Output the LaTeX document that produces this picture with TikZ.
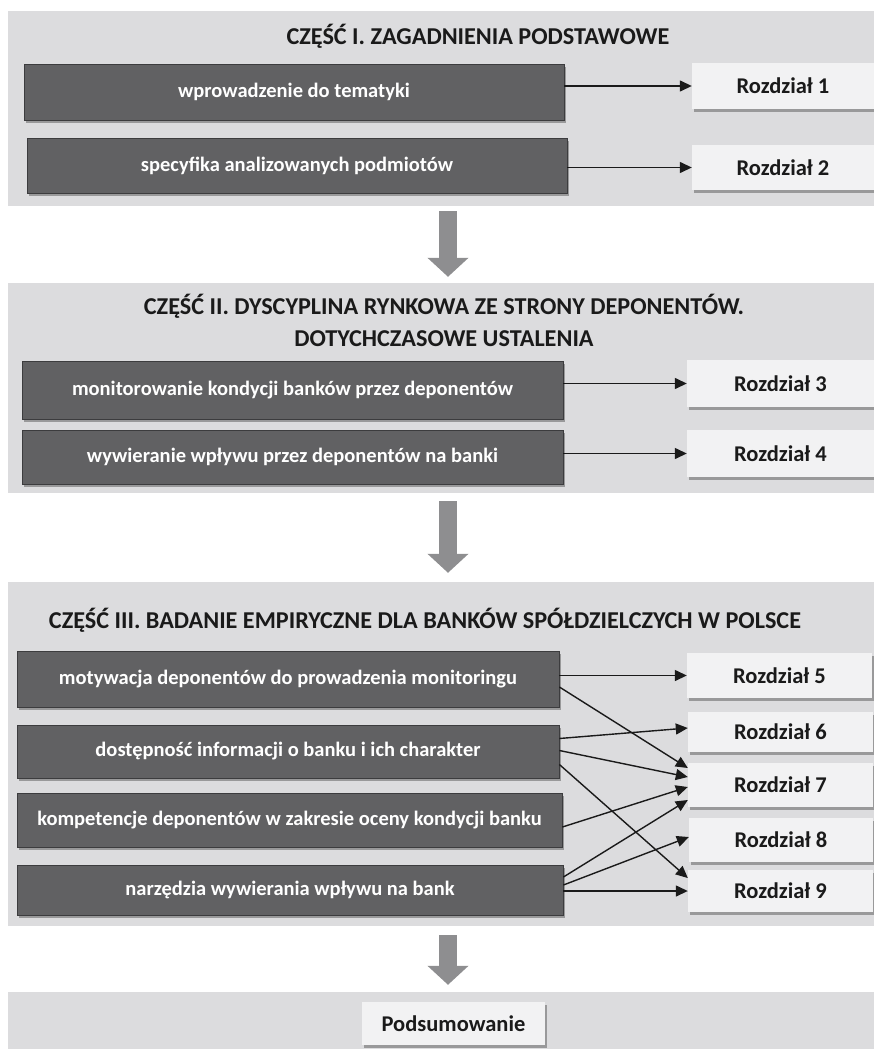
\documentclass[tikz,border=0pt]{standalone}
\usepackage{fontspec}
\setmainfont{Carlito}
\usetikzlibrary{arrows.meta,positioning,shadows}

\definecolor{partgray}{RGB}{220,220,222}
\definecolor{topicfill}{RGB}{97,97,99}
\definecolor{topicline}{RGB}{60,60,62}
\definecolor{chapfill}{RGB}{242,242,243}
\definecolor{bigarrowgray}{RGB}{142,142,144}
\definecolor{textdark}{RGB}{26,26,26}

\begin{document}
\begin{tikzpicture}[
  x=1pt, y=-1pt,
  partbox/.style={
    fill=partgray,
    draw=none,
    inner sep=0pt,
    minimum width=866pt
  },
  parttitle/.style={
    font=\fontsize{24.2}{32}\selectfont\bfseries,
    text=textdark,
    align=center
  },
  topic/.style={
    draw=topicline,
    line width=0.8pt,
    fill=topicfill,
    text=white,
    inner sep=0pt,
    font=\fontsize{20.5}{24}\selectfont\bfseries,
    drop shadow={shadow xshift=2pt, shadow yshift=-3pt, opacity=0.3, fill=black}
  },
  chapter/.style={
    fill=chapfill,
    text=textdark,
    inner sep=0pt,
    font=\fontsize{22.5}{26}\selectfont\bfseries,
    drop shadow={shadow xshift=2pt, shadow yshift=-3pt, opacity=0.3, fill=black}
  },
  arrow/.style={-{Triangle[length=12pt,width=11pt]}, line width=1.4pt, textdark},
  bigarrow/.style={-{Triangle[length=19pt,width=40pt]}, line width=18pt, draw=bigarrowgray}
]
\useasboundingbox (0,0) rectangle (874,1049);

% parts
\node[partbox, minimum height=195pt] (sec1) at (441,108.5) {};
\node[partbox, minimum height=210pt] (sec2) at (441,388) {};
\node[partbox, minimum height=344pt] (sec3) at (441,754) {};
\node[partbox, minimum height=57pt]  (sec4) at (441,1020.5) {};

\node[parttitle] (title1) at (478,36)  {CZĘŚĆ I. ZAGADNIENIA PODSTAWOWE};
\node[parttitle] (title2) at (444,320) {CZĘŚĆ II. DYSCYPLINA RYNKOWA ZE STRONY DEPONENTÓW.\\DOTYCHCZASOWE USTALENIA};
\node[parttitle] (title3) at (425,620) {CZĘŚĆ III. BADANIE EMPIRYCZNE DLA BANKÓW SPÓŁDZIELCZYCH W POLSCE};

% part I
\node[topic, minimum width=540pt, minimum height=56pt] (t1) at (294,92)    {wprowadzenie do tematyki};
\node[topic, minimum width=540pt, minimum height=55pt] (t2) at (297,165.5) {specyfika analizowanych podmiotów};
\node[chapter, minimum width=182pt, minimum height=46pt] (r1) at (783,86)    {Rozdział 1};
\node[chapter, minimum width=182pt, minimum height=45pt] (r2) at (783,167.5) {Rozdział 2};

% part II
\node[topic, minimum width=541pt, minimum height=58pt] (t3) at (292.5,390) {monitorowanie kondycji banków przez deponentów};
\node[topic, minimum width=541pt, minimum height=54pt] (t4) at (292.5,457) {wywieranie wpływu przez deponentów na banki};
\node[chapter, minimum width=187pt, minimum height=47pt] (r3) at (780.5,383.5) {Rozdział 3};
\node[chapter, minimum width=187pt, minimum height=47pt] (r4) at (780.5,453.5) {Rozdział 4};

% part III
\node[topic, minimum width=542pt, minimum height=56pt] (t5) at (288,679)   {motywacja deponentów do prowadzenia monitoringu};
\node[topic, minimum width=542pt, minimum height=53pt] (t6) at (288,751.5) {dostępność informacji o banku i ich charakter};
\node[topic, minimum width=545pt, minimum height=54pt] (t7) at (289.5,820) {kompetencje deponentów w zakresie oceny kondycji banku};
\node[topic, minimum width=546pt, minimum height=50pt] (t8) at (290,890)   {narzędzia wywierania wpływu na bank};
\node[chapter, minimum width=185pt, minimum height=45pt] (r5) at (779.5,675.5) {Rozdział 5};
\node[chapter, minimum width=185pt, minimum height=40pt] (r6) at (780.5,732)   {Rozdział 6};
\node[chapter, minimum width=185pt, minimum height=44pt] (r7) at (780.5,785)   {Rozdział 7};
\node[chapter, minimum width=184pt, minimum height=44pt] (r8) at (781,840)     {Rozdział 8};
\node[chapter, minimum width=185pt, minimum height=42pt] (r9) at (780.5,891)   {Rozdział 9};

% summary
\node[chapter, minimum width=183pt, minimum height=43pt] (sum) at (453.5,1023.5) {Podsumowanie};

% connectors
\draw[arrow] (r1.west -| t1.east) -- (r1.west);
\draw[arrow] (r2.west -| t2.east) -- (r2.west);
\draw[arrow] (r3.west -| t3.east) -- (r3.west);
\draw[arrow] (r4.west -| t4.east) -- (r4.west);

\draw[arrow] (r5.west -| t5.east) -- (r5.west);
\draw[arrow] ([yshift=-8pt]t5.east) -- ([yshift=17pt]r7.west);
\draw[arrow] ([yshift=13pt]t6.east) -- ([yshift=4pt]r6.west);
\draw[arrow] ([yshift=1pt]t6.east) -- ([yshift=8pt]r7.west);
\draw[arrow] ([yshift=-13pt]t6.east) -- ([yshift=13pt]r9.west);
\draw[arrow] ([yshift=-7pt]t7.east) -- ([yshift=-2pt]r7.west);
\draw[arrow] ([yshift=13pt]t8.east) -- ([yshift=-15pt]r7.west);
\draw[arrow] ([yshift=5pt]t8.east) -- ([yshift=3pt]r8.west);
\draw[arrow] (r9.west -| t8.east) -- (r9.west);

% flow between parts
\draw[bigarrow, shorten <=5pt, shorten >=6pt] ([xshift=7pt]sec1.south) -- ([xshift=7pt]sec2.north);
\draw[bigarrow, shorten <=8pt, shorten >=9pt] ([xshift=7pt]sec2.south) -- ([xshift=7pt]sec3.north);
\draw[bigarrow, shorten <=9pt, shorten >=7pt] ([xshift=7pt]sec3.south) -- ([xshift=7pt]sec4.north);

\end{tikzpicture}
\end{document}
